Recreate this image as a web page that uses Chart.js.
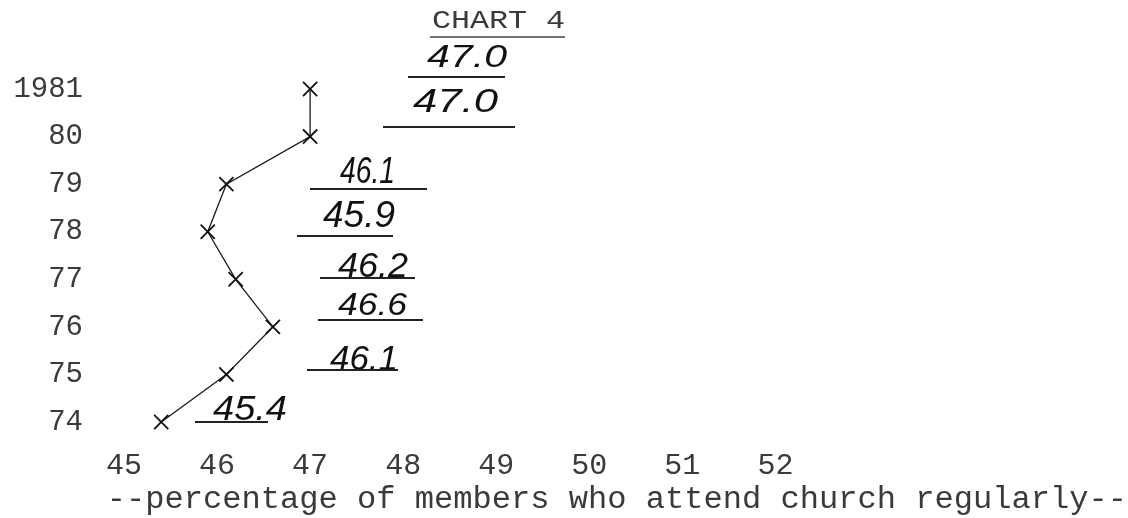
<!DOCTYPE html>
<html><head><meta charset="utf-8">
<script src="https://cdn.jsdelivr.net/npm/chart.js@4"></script>
<style>html,body{margin:0;padding:0;background:#fff;}canvas{display:block;}</style>
</head><body>
<canvas id="c" width="1128" height="518"></canvas>
<script>
// ---- data ----
const years = [1974, 1975, 1976, 1977, 1978, 1979, 1980, 1981];
const attendance = [45.4, 46.1, 46.6, 46.2, 45.9, 46.1, 47.0, 47.0];
const yearTickLabels = ['74', '75', '76', '77', '78', '79', '80', '1981'];
const percentTickLabels = [45, 46, 47, 48, 49, 50, 51, 52];
const chartTitle = 'CHART 4';
const axisTitle = '--percentage of members who attend church regularly--';

// ---- styles: hand-written note boxes (same order as years) ----
const noteBoxes = [
  {l:213, r:287, t:395, b:420, u1:195, u2:268, uy:422},
  {l:330, r:398, t:345, b:370, u1:307, u2:398, uy:370},
  {l:338, r:407, t:292, b:315, u1:318, u2:423, uy:320},
  {l:338, r:408, t:252, b:277, u1:320, u2:415, uy:278},
  {l:323, r:395, t:201, b:227, u1:297, u2:393, uy:236},
  {l:340, r:395, t:156, b:183, u1:310, u2:427, uy:189},
  {l:413, r:498, t:88,  b:112, u1:383, u2:515, uy:127},
  {l:427, r:507, t:44,  b:67,  u1:408, u2:505, uy:77}
];
const titleBox = {l:432, r:565, t:13, b:28, u1:430, u2:565, uy:37};

const MONO = '"Liberation Mono", "DejaVu Sans Mono", monospace';
const HAND = '"Liberation Sans", "DejaVu Sans", sans-serif';
const TYPE_COLOR = '#3a3a3a';

function drawFitted(ctx, text, family, style, box, capRatio, color) {
  const size = (box.b - box.t) / capRatio;
  ctx.font = style + ' ' + size.toFixed(1) + 'px ' + family;
  const w = ctx.measureText(text).width;
  ctx.save();
  ctx.translate(box.l, box.b);
  ctx.scale((box.r - box.l) / w, 1);
  ctx.fillStyle = color;
  ctx.textBaseline = 'alphabetic';
  ctx.textAlign = 'left';
  ctx.fillText(text, 0, 0);
  ctx.restore();
}
function underline(ctx, box, width, color) {
  ctx.save();
  ctx.strokeStyle = color;
  ctx.lineWidth = width;
  ctx.beginPath();
  ctx.moveTo(box.u1, box.uy);
  ctx.lineTo(box.u2, box.uy);
  ctx.stroke();
  ctx.restore();
}

const notesPlugin = {
  id: 'notes',
  afterDraw(chart) {
    const ctx = chart.ctx;
    // typed chart title
    drawFitted(ctx, chartTitle, MONO, '', titleBox, 0.6, TYPE_COLOR);
    underline(ctx, titleBox, 1.5, '#444');
    // typed axis caption, right-aligned with the page edge
    ctx.save();
    ctx.font = '32.1px ' + MONO;
    ctx.fillStyle = TYPE_COLOR;
    ctx.textAlign = 'right';
    ctx.textBaseline = 'middle';
    ctx.fillText(axisTitle, chart.width - 1, chart.height - 19);
    ctx.restore();
    // hand-written values
    attendance.forEach((v, i) => {
      const box = noteBoxes[i];
      drawFitted(ctx, v.toFixed(1), HAND, 'italic', box, 0.72, '#111');
      underline(ctx, box, 2, '#222');
    });
  }
};

new Chart(document.getElementById('c'), {
  type: 'scatter',
  data: {
    datasets: [{
      data: years.map((y, i) => ({x: attendance[i], y: y})),
      showLine: true,
      borderColor: '#1a1a1a',
      borderWidth: 1.3,
      pointStyle: 'crossRot',
      pointRadius: 10,
      pointHoverRadius: 10,
      pointBorderWidth: 1.8,
      pointBorderColor: '#111',
      pointBackgroundColor: '#111',
      clip: false
    }]
  },
  options: {
    responsive: false,
    animation: false,
    devicePixelRatio: 1,
    layout: {padding: {top: 89, left: 0, right: 1, bottom: 0}},
    plugins: {legend: {display: false}, tooltip: {enabled: false}, title: {display: false}},
    scales: {
      x: {
        type: 'linear',
        min: 45,
        max: 55.51,
        border: {display: false},
        grid: {display: false, drawTicks: false},
        afterFit: (s) => { s.height = 96; },
        ticks: {
          stepSize: 1,
          autoSkip: false,
          maxRotation: 0,
          padding: 26,
          color: TYPE_COLOR,
          font: {family: MONO, size: 30},
          callback: (v) => percentTickLabels.includes(v) ? String(v) : ''
        },
        title: {display: false}
      },
      y: {
        type: 'linear',
        min: 1974,
        max: 1981,
        border: {display: false},
        grid: {display: false, drawTicks: false},
        afterFit: (s) => { s.width = 124; },
        ticks: {
          stepSize: 1,
          autoSkip: false,
          padding: 41,
          color: TYPE_COLOR,
          font: {family: MONO, size: 29},
          callback: (v) => { const i = years.indexOf(v); return i >= 0 ? yearTickLabels[i] : ''; }
        }
      }
    }
  },
  plugins: [notesPlugin]
});
</script>
</body></html>
